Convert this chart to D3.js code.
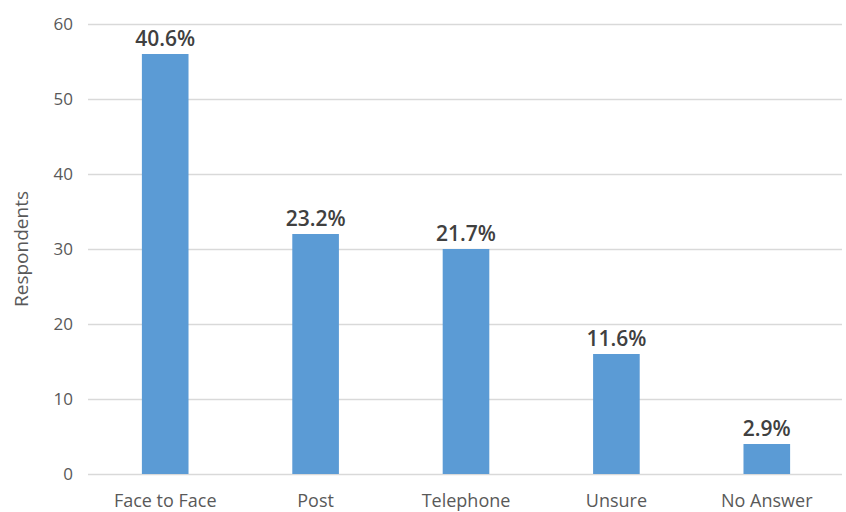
<!DOCTYPE html>
<html lang="en">
<head>
<meta charset="utf-8">
<title>Respondents by contact preference</title>
<script src="https://cdn.jsdelivr.net/npm/d3@7"></script>
<style>
  body { margin: 0; background: #fff; }
  text { font-family: "Open Sans", sans-serif; }
</style>
</head>
<body>
<script>
// data
var categories = ["Face to Face", "Post", "Telephone", "Unsure", "No Answer"];
var respondents = [56, 32, 30, 16, 4];
var percentLabels = ["40.6%", "23.2%", "21.7%", "11.6%", "2.9%"];
var yTicks = [0, 10, 20, 30, 40, 50, 60];

var w = 846, h = 512;
var margin = {top: 24, right: 4, bottom: 38, left: 90};

var svg = d3.select("body").append("svg")
  .attr("width", w)
  .attr("height", h);

var x = d3.scaleBand()
  .domain(categories)
  .range([margin.left, w - margin.right])
  .paddingInner(0.69)
  .paddingOuter(0.345);

var y = d3.scaleLinear()
  .domain([0, 60])
  .range([h - margin.bottom, margin.top]);

// gridlines
svg.append("g")
  .selectAll("line")
  .data(yTicks)
  .enter().append("line")
  .attr("x1", margin.left - 2)
  .attr("x2", w - margin.right)
  .attr("y1", function(d) { return Math.round(y(d)) + 0.5; })
  .attr("y2", function(d) { return Math.round(y(d)) + 0.5; })
  .attr("stroke", "#d9d9d9")
  .attr("stroke-width", 1.3);

// y axis labels
var yAxis = d3.axisLeft(y).tickValues(yTicks).tickSize(0).tickPadding(0);
var gy = svg.append("g")
  .attr("transform", "translate(" + (margin.left - 17) + ",0)")
  .call(yAxis);
gy.select(".domain").remove();
gy.selectAll("text")
  .attr("fill", "#595959")
  .style("font-size", "17px");

// bars
svg.append("g")
  .selectAll("rect")
  .data(respondents)
  .enter().append("rect")
  .attr("x", function(d, i) { return x(categories[i]); })
  .attr("y", function(d) { return y(d); })
  .attr("width", x.bandwidth())
  .attr("height", function(d) { return y(0) - y(d); })
  .attr("fill", "#5b9bd5");

// value labels
svg.append("g")
  .selectAll("text")
  .data(respondents)
  .enter().append("text")
  .attr("x", function(d, i) { return x(categories[i]) + x.bandwidth() / 2; })
  .attr("y", function(d) { return y(d) - 8; })
  .attr("text-anchor", "middle")
  .attr("fill", "#404040")
  .style("font-size", "21px")
  .style("font-weight", "600")
  .text(function(d, i) { return percentLabels[i]; });

// x axis labels
var xAxis = d3.axisBottom(x).tickSize(0).tickPadding(0);
var gx = svg.append("g")
  .attr("transform", "translate(0," + (h - margin.bottom + 20) + ")")
  .call(xAxis);
gx.select(".domain").remove();
gx.selectAll("text")
  .attr("fill", "#595959")
  .style("font-size", "18px");

// y axis title
svg.append("text")
  .attr("transform", "translate(28," + ((margin.top + h - margin.bottom) / 2) + ") rotate(-90)")
  .attr("text-anchor", "middle")
  .attr("fill", "#595959")
  .style("font-size", "19px")
  .text("Respondents");
</script>
</body>
</html>
